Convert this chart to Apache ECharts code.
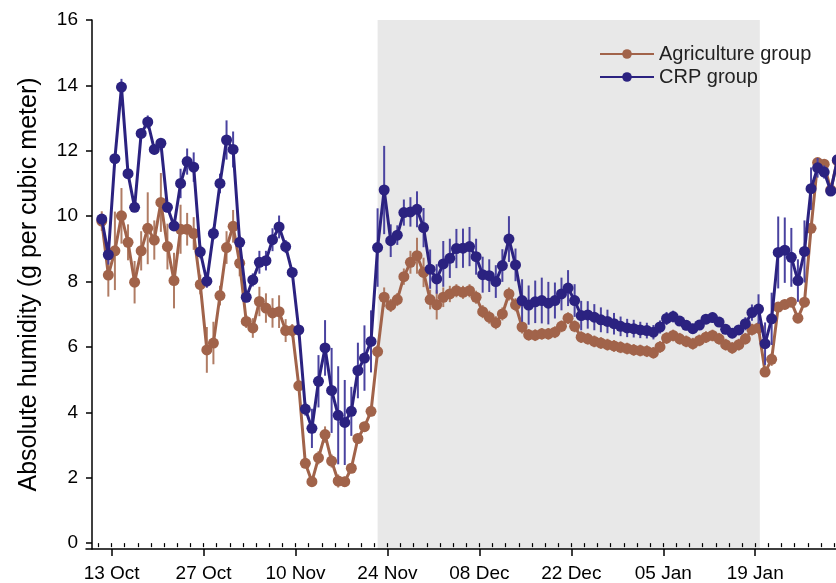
<!DOCTYPE html>
<html>
<head>
<meta charset="utf-8">
<style>
  html, body { margin: 0; padding: 0; background: #fff; }
  #chart { width: 836px; height: 583px; }
</style>
<script src="https://cdn.jsdelivr.net/npm/echarts@6/dist/echarts.min.js"></script>
</head>
<body>
<div id="chart"></div>
<script>
// Daily mean absolute humidity, first reading 11 Oct; x is days after 13 Oct (readings plotted at noon)
const firstDay = -1.5;

const agricultureMean = [
  9.85, 8.20, 8.94, 10.01, 9.20, 7.98, 8.94, 9.63, 9.27, 10.42,
  9.07, 8.03, 9.60, 9.60, 9.47, 7.91, 5.91, 6.12, 7.57, 9.04,
  9.69, 8.56, 6.78, 6.58, 7.39, 7.19, 7.04, 7.08, 6.50, 6.50,
  4.81, 2.44, 1.88, 2.61, 3.32, 2.51, 1.90, 1.88, 2.29, 3.20,
  3.56, 4.03, 5.86, 7.52, 7.27, 7.45, 8.15, 8.59, 8.79, 8.28,
  7.45, 7.29, 7.52, 7.62, 7.72, 7.67, 7.72, 7.52, 7.08, 6.91,
  6.74, 7.01, 7.62, 7.29, 6.61, 6.37, 6.36, 6.40, 6.40, 6.45,
  6.63, 6.88, 6.63, 6.30, 6.25, 6.17, 6.12, 6.07, 6.03, 5.99,
  5.95, 5.91, 5.89, 5.87, 5.82, 6.00, 6.27, 6.35, 6.25, 6.17,
  6.10, 6.20, 6.30, 6.35, 6.25, 6.07, 5.97, 6.07, 6.25, 6.53,
  6.58, 5.23, 5.62, 7.22, 7.30, 7.37, 6.88, 7.37, 9.63, 11.64,
  11.59, 10.80, 11.70
];
const agricultureErr = [
  0.30, 0.66, 1.20, 0.85, 0.55, 0.65, 0.60, 1.10, 0.60, 0.90,
  0.70, 0.85, 0.75, 0.50, 0.50, 0.30, 0.70, 0.65, 0.30, 0.50,
  0.50, 0.40, 0.20, 0.30, 0.45, 0.45, 0.45, 0.50, 0.35, 0.20,
  0.15, 0.15, 0.15, 0.20, 0.25, 0.20, 0.20, 0.15, 0.15, 0.15,
  0.15, 0.15, 0.20, 0.30, 0.20, 0.20, 0.25, 0.35, 0.55, 0.45,
  0.30, 0.45, 0.30, 0.25, 0.20, 0.20, 0.20, 0.20, 0.20, 0.20,
  0.20, 0.20, 0.20, 0.20, 0.20, 0.18, 0.18, 0.18, 0.18, 0.18,
  0.18, 0.18, 0.18, 0.18, 0.18, 0.18, 0.18, 0.18, 0.18, 0.18,
  0.18, 0.18, 0.18, 0.18, 0.18, 0.18, 0.18, 0.18, 0.18, 0.18,
  0.18, 0.18, 0.18, 0.18, 0.18, 0.18, 0.18, 0.18, 0.18, 0.18,
  0.18, 0.15, 0.20, 0.15, 0.15, 0.15, 0.15, 0.15, 0.15, 0.12,
  0.12, 0.12, 0.12
];
const crpMean = [
  9.91, 8.82, 11.76, 13.95, 11.30, 10.27, 12.53, 12.88, 12.04, 12.23,
  10.27, 9.70, 11.00, 11.67, 11.50, 8.91, 8.01, 9.47, 11.00, 12.33,
  12.04, 9.20, 7.52, 8.05, 8.59, 8.64, 9.28, 9.67, 9.07, 8.28,
  6.52, 4.10, 3.51, 4.95, 5.97, 4.67, 3.91, 3.69, 4.03, 5.28,
  5.66, 6.17, 9.04, 10.80, 9.25, 9.42, 10.11, 10.13, 10.21, 9.65,
  8.38, 8.08, 8.54, 8.71, 9.01, 9.02, 9.07, 8.76, 8.21, 8.18,
  8.00, 8.49, 9.30, 8.51, 7.42, 7.28, 7.38, 7.42, 7.34, 7.42,
  7.62, 7.80, 7.42, 6.96, 6.98, 6.91, 6.83, 6.78, 6.71, 6.63,
  6.58, 6.56, 6.52, 6.50, 6.45, 6.61, 6.87, 6.93, 6.79, 6.66,
  6.56, 6.67, 6.85, 6.90, 6.76, 6.54, 6.42, 6.52, 6.71, 7.05,
  7.16, 6.10, 6.86, 8.89, 8.96, 8.74, 8.03, 8.92, 10.84, 11.48,
  11.35, 10.77, 11.72
];
const crpErr = [
  0.10, 0.30, 0.15, 0.25, 0.15, 0.10, 0.15, 0.20, 0.15, 0.10,
  0.15, 0.15, 0.45, 0.40, 0.45, 0.20, 0.20, 0.20, 0.30, 0.60,
  0.55, 0.20, 0.15, 0.20, 0.35, 0.30, 0.35, 0.35, 0.20, 0.15,
  0.15, 0.20, 0.60, 0.80, 0.85, 1.30, 1.50, 1.30, 0.75, 0.85,
  1.00, 0.95, 1.20, 1.35, 0.50, 0.30, 0.40, 0.45, 0.55, 0.60,
  0.60, 0.45, 0.70, 0.60, 0.60, 0.60, 0.60, 0.55, 0.55, 0.50,
  0.50, 0.50, 0.70, 0.50, 0.65, 0.60, 0.65, 0.70, 0.65, 0.55,
  0.50, 0.55, 0.50, 0.45, 0.42, 0.40, 0.38, 0.36, 0.33, 0.30,
  0.28, 0.27, 0.25, 0.24, 0.22, 0.20, 0.20, 0.18, 0.15, 0.15,
  0.15, 0.15, 0.15, 0.15, 0.15, 0.15, 0.15, 0.15, 0.20, 0.25,
  0.45, 0.65, 0.80, 1.10, 1.00, 0.90, 0.65, 0.95, 0.65, 0.30,
  0.20, 0.15, 0.15
];

// Date ticks every 14 days, minor ticks every 2 days
const tickDays = [0, 14, 28, 42, 56, 70, 84, 98];
const tickLabels = ['13 Oct', '27 Oct', '10 Nov', '24 Nov', '08 Dec', '22 Dec', '05 Jan', '19 Jan'];
const minorTickDays = [];
for (let d = -2; d <= 110; d += 2) minorTickDays.push(d);

const yTicks = [0, 2, 4, 6, 8, 10, 12, 14, 16];

// Shaded period (day offsets)
const shadedPeriod = [40.5, 98.7];

const names = ['Agriculture group', 'CRP group'];
const brown = '#a1634a';
const brownBar = '#b07c64';
const blue = '#2b2280';
const blueBar = '#4a43a0';

const font = 'Arial, "Liberation Sans", sans-serif';

// x range: the x axis line runs a little past the y axis on the left
const xMin = -3.9;
const xMax = 110.3;
// y range: the x axis sits just below the zero tick
const yMin = -0.18;
const yMax = 16;

function points(mean) {
  return mean.map((v, i) => [firstDay + i, v]);
}
function bars(mean, err) {
  return mean.map((v, i) => [firstDay + i, v - err[i], v + err[i]]);
}
function errorBarRenderer(color) {
  return function (params, api) {
    const x = api.value(0);
    const p1 = api.coord([x, api.value(1)]);
    const p2 = api.coord([x, api.value(2)]);
    return {
      type: 'line',
      shape: { x1: p1[0], y1: p1[1], x2: p2[0], y2: p2[1] },
      style: { stroke: color, lineWidth: 2 }
    };
  };
}

const chart = echarts.init(document.getElementById('chart'), null, { renderer: 'canvas' });

chart.setOption({
  animation: false,
  backgroundColor: '#fff',
  grid: { left: 86, right: 0, top: 20, bottom: 32, containLabel: false },
  legend: {
    data: names,
    orient: 'vertical',
    left: 594,
    top: 39,
    itemWidth: 54,
    itemHeight: 12,
    itemGap: 3,
    textStyle: { fontFamily: font, fontSize: 20, color: '#222' }
  },
  xAxis: [
    {
      type: 'value',
      min: xMin,
      max: xMax,
      splitLine: { show: false },
      axisLine: { show: true, onZero: false, lineStyle: { color: '#000', width: 1.5 } },
      axisTick: { show: true, customValues: tickDays, length: 7, lineStyle: { color: '#000', width: 1.5 } },
      axisLabel: {
        customValues: tickDays,
        margin: 15,
        fontFamily: font,
        fontSize: 19,
        color: '#000',
        formatter: v => tickLabels[tickDays.indexOf(Math.round(v))] || ''
      }
    },
    {
      type: 'value',
      min: xMin,
      max: xMax,
      position: 'bottom',
      splitLine: { show: false },
      axisLine: { show: false },
      axisTick: { show: true, customValues: minorTickDays, length: 4, lineStyle: { color: '#000', width: 1.2 } },
      axisLabel: { show: false }
    }
  ],
  yAxis: {
    type: 'value',
    min: yMin,
    max: yMax,
    offset: -6,
    name: 'Absolute humidity (g per cubic meter)',
    nameLocation: 'middle',
    nameGap: 50,
    nameTextStyle: { fontFamily: font, fontSize: 25, color: '#000' },
    splitLine: { show: false },
    axisLine: { show: true, onZero: false, lineStyle: { color: '#000', width: 1.5 } },
    axisTick: { show: true, customValues: yTicks, length: 6, lineStyle: { color: '#000', width: 1.5 } },
    axisLabel: {
      customValues: yTicks,
      margin: 14,
      fontFamily: font,
      fontSize: 19,
      color: '#000'
    }
  },
  series: [
    {
      name: 'shade',
      type: 'custom',
      silent: true,
      z: 0,
      data: [shadedPeriod],
      renderItem: function (params, api) {
        const a = api.coord([api.value(0), yMax]);
        const b = api.coord([api.value(1), yMin]);
        return {
          type: 'rect',
          shape: { x: a[0], y: a[1], width: b[0] - a[0], height: b[1] - a[1] },
          style: { fill: '#e8e8e8' }
        };
      }
    },
    {
      name: 'agriErr',
      type: 'custom',
      z: 2,
      clip: false,
      data: bars(agricultureMean, agricultureErr),
      renderItem: errorBarRenderer(brownBar)
    },
    {
      name: names[0],
      type: 'line',
      z: 3,
      clip: false,
      data: points(agricultureMean),
      symbol: 'circle',
      symbolSize: 11,
      showAllSymbol: true,
      lineStyle: { color: brown, width: 3 },
      itemStyle: { color: brown }
    },
    {
      name: 'crpErr',
      type: 'custom',
      z: 4,
      clip: false,
      data: bars(crpMean, crpErr),
      renderItem: errorBarRenderer(blueBar)
    },
    {
      name: names[1],
      type: 'line',
      z: 5,
      clip: false,
      data: points(crpMean),
      symbol: 'circle',
      symbolSize: 11,
      showAllSymbol: true,
      lineStyle: { color: blue, width: 3 },
      itemStyle: { color: blue }
    }
  ]
});
</script>
</body>
</html>
